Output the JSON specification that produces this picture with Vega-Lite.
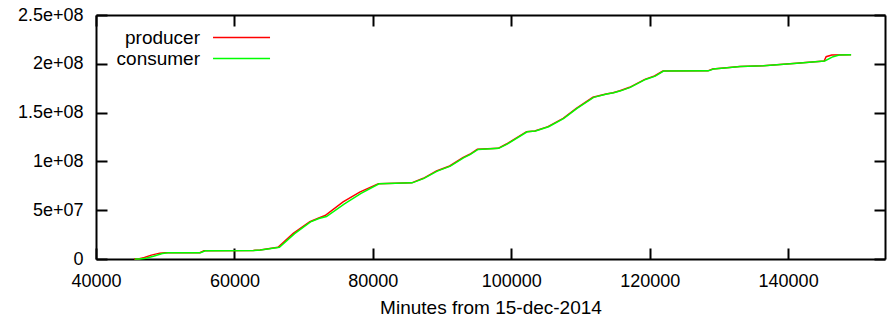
{
  "$schema": "https://vega.github.io/schema/vega-lite/v6.json",
  "width": 789,
  "height": 244,
  "autosize": {"type": "none"},
  "padding": {"left": 96, "top": 15, "right": 2, "bottom": 58},
  "background": "white",
  "config": {
    "view": {"stroke": null},
    "axis": {
      "grid": false,
      "domain": true,
      "domainColor": "black",
      "domainWidth": 2,
      "ticks": true,
      "tickColor": "black",
      "tickWidth": 2,
      "labelFontSize": 18
    }
  },
  "data": {
    "values": [
      {"series": "producer", "minutes": 45500, "bytes": 0},
      {"series": "producer", "minutes": 46100, "bytes": 0},
      {"series": "producer", "minutes": 47000, "bytes": 1500000},
      {"series": "producer", "minutes": 48000, "bytes": 4000000},
      {"series": "producer", "minutes": 49200, "bytes": 6000000},
      {"series": "producer", "minutes": 50000, "bytes": 6300000},
      {"series": "producer", "minutes": 55000, "bytes": 6500000},
      {"series": "producer", "minutes": 55600, "bytes": 8500000},
      {"series": "producer", "minutes": 62700, "bytes": 8800000},
      {"series": "producer", "minutes": 63700, "bytes": 9200000},
      {"series": "producer", "minutes": 66300, "bytes": 12000000},
      {"series": "producer", "minutes": 68500, "bytes": 26300000},
      {"series": "producer", "minutes": 70900, "bytes": 38200000},
      {"series": "producer", "minutes": 72100, "bytes": 41700000},
      {"series": "producer", "minutes": 73100, "bytes": 44500000},
      {"series": "producer", "minutes": 75700, "bytes": 58500000},
      {"series": "producer", "minutes": 78100, "bytes": 68500000},
      {"series": "producer", "minutes": 80800, "bytes": 77200000},
      {"series": "producer", "minutes": 85600, "bytes": 78000000},
      {"series": "producer", "minutes": 87300, "bytes": 82700000},
      {"series": "producer", "minutes": 89200, "bytes": 90200000},
      {"series": "producer", "minutes": 91100, "bytes": 95300000},
      {"series": "producer", "minutes": 93000, "bytes": 103800000},
      {"series": "producer", "minutes": 94000, "bytes": 107300000},
      {"series": "producer", "minutes": 95100, "bytes": 112400000},
      {"series": "producer", "minutes": 98100, "bytes": 113400000},
      {"series": "producer", "minutes": 99300, "bytes": 117800000},
      {"series": "producer", "minutes": 102200, "bytes": 130400000},
      {"series": "producer", "minutes": 103400, "bytes": 131100000},
      {"series": "producer", "minutes": 105300, "bytes": 135600000},
      {"series": "producer", "minutes": 107500, "bytes": 144100000},
      {"series": "producer", "minutes": 109400, "bytes": 154400000},
      {"series": "producer", "minutes": 111800, "bytes": 165700000},
      {"series": "producer", "minutes": 113700, "bytes": 169000000},
      {"series": "producer", "minutes": 114700, "bytes": 170400000},
      {"series": "producer", "minutes": 115700, "bytes": 172400000},
      {"series": "producer", "minutes": 117100, "bytes": 175900000},
      {"series": "producer", "minutes": 119300, "bytes": 184100000},
      {"series": "producer", "minutes": 120700, "bytes": 187500000},
      {"series": "producer", "minutes": 121900, "bytes": 192600000},
      {"series": "producer", "minutes": 128400, "bytes": 192800000},
      {"series": "producer", "minutes": 129100, "bytes": 194700000},
      {"series": "producer", "minutes": 131500, "bytes": 196200000},
      {"series": "producer", "minutes": 133000, "bytes": 197200000},
      {"series": "producer", "minutes": 136400, "bytes": 198000000},
      {"series": "producer", "minutes": 141200, "bytes": 200500000},
      {"series": "producer", "minutes": 145200, "bytes": 202900000},
      {"series": "producer", "minutes": 145500, "bytes": 207300000},
      {"series": "producer", "minutes": 146300, "bytes": 209000000},
      {"series": "producer", "minutes": 149100, "bytes": 209200000},
      {"series": "consumer", "minutes": 45600, "bytes": 0},
      {"series": "consumer", "minutes": 46300, "bytes": 0},
      {"series": "consumer", "minutes": 47200, "bytes": 800000},
      {"series": "consumer", "minutes": 48300, "bytes": 2800000},
      {"series": "consumer", "minutes": 49600, "bytes": 5600000},
      {"series": "consumer", "minutes": 50400, "bytes": 6300000},
      {"series": "consumer", "minutes": 55100, "bytes": 6500000},
      {"series": "consumer", "minutes": 55800, "bytes": 8500000},
      {"series": "consumer", "minutes": 62800, "bytes": 8800000},
      {"series": "consumer", "minutes": 63800, "bytes": 9200000},
      {"series": "consumer", "minutes": 66500, "bytes": 12000000},
      {"series": "consumer", "minutes": 68700, "bytes": 26000000},
      {"series": "consumer", "minutes": 71000, "bytes": 38000000},
      {"series": "consumer", "minutes": 72200, "bytes": 41500000},
      {"series": "consumer", "minutes": 73300, "bytes": 43500000},
      {"series": "consumer", "minutes": 75900, "bytes": 56500000},
      {"series": "consumer", "minutes": 78300, "bytes": 67300000},
      {"series": "consumer", "minutes": 80900, "bytes": 77000000},
      {"series": "consumer", "minutes": 85700, "bytes": 78000000},
      {"series": "consumer", "minutes": 87400, "bytes": 82600000},
      {"series": "consumer", "minutes": 89300, "bytes": 90000000},
      {"series": "consumer", "minutes": 91200, "bytes": 95200000},
      {"series": "consumer", "minutes": 93100, "bytes": 103600000},
      {"series": "consumer", "minutes": 94100, "bytes": 107200000},
      {"series": "consumer", "minutes": 95200, "bytes": 112300000},
      {"series": "consumer", "minutes": 98200, "bytes": 113400000},
      {"series": "consumer", "minutes": 99400, "bytes": 117700000},
      {"series": "consumer", "minutes": 102300, "bytes": 130300000},
      {"series": "consumer", "minutes": 103500, "bytes": 131100000},
      {"series": "consumer", "minutes": 105400, "bytes": 135500000},
      {"series": "consumer", "minutes": 107600, "bytes": 144000000},
      {"series": "consumer", "minutes": 109500, "bytes": 154300000},
      {"series": "consumer", "minutes": 111900, "bytes": 165600000},
      {"series": "consumer", "minutes": 113800, "bytes": 169000000},
      {"series": "consumer", "minutes": 114800, "bytes": 170400000},
      {"series": "consumer", "minutes": 115800, "bytes": 172300000},
      {"series": "consumer", "minutes": 117200, "bytes": 175800000},
      {"series": "consumer", "minutes": 119400, "bytes": 184000000},
      {"series": "consumer", "minutes": 120800, "bytes": 187400000},
      {"series": "consumer", "minutes": 122000, "bytes": 192600000},
      {"series": "consumer", "minutes": 128500, "bytes": 192800000},
      {"series": "consumer", "minutes": 129200, "bytes": 194700000},
      {"series": "consumer", "minutes": 131600, "bytes": 196200000},
      {"series": "consumer", "minutes": 133100, "bytes": 197200000},
      {"series": "consumer", "minutes": 136500, "bytes": 198000000},
      {"series": "consumer", "minutes": 141300, "bytes": 200500000},
      {"series": "consumer", "minutes": 145300, "bytes": 202900000},
      {"series": "consumer", "minutes": 146500, "bytes": 207300000},
      {"series": "consumer", "minutes": 147400, "bytes": 209000000},
      {"series": "consumer", "minutes": 149100, "bytes": 209200000}
    ]
  },
  "layer": [
    {
      "transform": [{"filter": "datum.series === 'producer'"}],
      "mark": {"type": "line", "strokeWidth": 1.5},
      "encoding": {
        "x": {"field": "minutes", "type": "quantitative",
          "scale": {"domain": [40000, 154000], "nice": false, "zero": false},
          "axis": {"orient": "bottom", "title": "Minutes from 15-dec-2014", "tickSize": -11,
            "values": [40000, 60000, 80000, 100000, 120000, 140000],
            "format": "d", "labelFlush": false, "labelPadding": 24, "titlePadding": 8,
            "titleFontSize": 19, "titleFontWeight": "normal", "titleColor": "black", "labelColor": "black"}},
        "y": {"field": "bytes", "type": "quantitative",
          "scale": {"domain": [0, 250000000], "nice": false},
          "axis": {"orient": "left", "title": null, "tickSize": -11,
            "values": [0, 50000000, 100000000, 150000000, 200000000, 250000000],
            "labelExpr": "datum.value == 0 ? '0' : replace(format(datum.value, '.2~e'), 'e+', 'e+0')",
            "labelFlush": false, "labelPadding": 24, "labelColor": "black"}},
        "color": {"field": "series", "type": "nominal",
          "scale": {"domain": ["producer", "consumer"], "range": ["#ff0000", "#00ff00"]},
          "legend": {"orient": "top-left", "offset": 12, "title": null, "padding": 0,
            "symbolType": "M9.95,0H15.95", "symbolSize": 361, "symbolStrokeWidth": 1.5,
            "labelAlign": "right", "labelOffset": 71, "labelFontSize": 19, "labelColor": "black", "rowPadding": -2}}
      }
    },
    {
      "transform": [{"filter": "datum.series === 'consumer'"}],
      "mark": {"type": "line", "strokeWidth": 1.5},
      "encoding": {
        "x": {"field": "minutes", "type": "quantitative",
          "scale": {"domain": [40000, 154000], "nice": false, "zero": false},
          "axis": {"orient": "top", "title": null, "tickSize": -11, "labels": false,
            "values": [40000, 60000, 80000, 100000, 120000, 140000]}},
        "y": {"field": "bytes", "type": "quantitative",
          "scale": {"domain": [0, 250000000], "nice": false},
          "axis": {"orient": "right", "title": null, "tickSize": -11, "labels": false,
            "values": [0, 50000000, 100000000, 150000000, 200000000, 250000000]}},
        "color": {"field": "series", "type": "nominal",
          "scale": {"domain": ["producer", "consumer"], "range": ["#ff0000", "#00ff00"]},
          "legend": {"orient": "top-left", "offset": 12, "title": null, "padding": 0,
            "symbolType": "M9.95,0H15.95", "symbolSize": 361, "symbolStrokeWidth": 1.5,
            "labelAlign": "right", "labelOffset": 71, "labelFontSize": 19, "labelColor": "black", "rowPadding": -2}}
      }
    }
  ],
  "resolve": {"scale": {"x": "independent", "y": "independent"}, "axis": {"x": "independent", "y": "independent"}}
}
